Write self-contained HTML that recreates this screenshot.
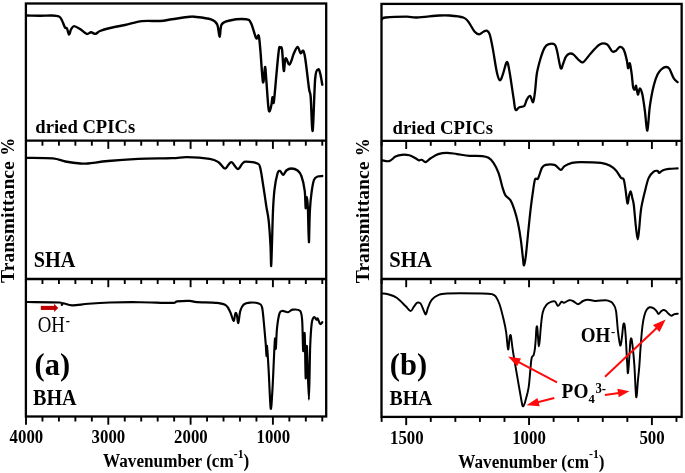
<!DOCTYPE html>
<html><head><meta charset="utf-8"><title>FTIR spectra</title>
<style>
html,body{margin:0;padding:0;background:#fff;}
body{width:685px;height:473px;overflow:hidden;position:relative;font-family:"Liberation Serif",serif;}
svg text{font-family:"Liberation Serif",serif;}
</style></head><body>
<svg width="685" height="473" viewBox="0 0 685 473" style="display:block;position:absolute;left:0;top:0;filter:blur(0.4px)">
<rect x="0" y="0" width="685" height="473" fill="#fff"/>
<g fill="none" stroke="#000" stroke-width="2.3">
<rect x="25.90" y="3.50" width="300.30" height="413.00"/>
<path d="M25.90 140.70H326.20"/>
<path d="M25.90 279.00H326.20"/>
</g>
<g fill="none" stroke="#000" stroke-width="1.9">
<path d="M322.28 140.70v5.00"/>
<path d="M305.82 140.70v5.00"/>
<path d="M289.36 140.70v5.00"/>
<path d="M256.44 140.70v5.00"/>
<path d="M239.98 140.70v5.00"/>
<path d="M223.52 140.70v5.00"/>
<path d="M207.06 140.70v5.00"/>
<path d="M174.14 140.70v5.00"/>
<path d="M157.68 140.70v5.00"/>
<path d="M141.22 140.70v5.00"/>
<path d="M124.76 140.70v5.00"/>
<path d="M91.84 140.70v5.00"/>
<path d="M75.38 140.70v5.00"/>
<path d="M58.92 140.70v5.00"/>
<path d="M42.46 140.70v5.00"/>
<path d="M26.00 140.70v8.20"/>
<path d="M108.30 140.70v8.20"/>
<path d="M190.60 140.70v8.20"/>
<path d="M272.90 140.70v8.20"/>
<path d="M322.28 279.00v5.00"/>
<path d="M305.82 279.00v5.00"/>
<path d="M289.36 279.00v5.00"/>
<path d="M256.44 279.00v5.00"/>
<path d="M239.98 279.00v5.00"/>
<path d="M223.52 279.00v5.00"/>
<path d="M207.06 279.00v5.00"/>
<path d="M174.14 279.00v5.00"/>
<path d="M157.68 279.00v5.00"/>
<path d="M141.22 279.00v5.00"/>
<path d="M124.76 279.00v5.00"/>
<path d="M91.84 279.00v5.00"/>
<path d="M75.38 279.00v5.00"/>
<path d="M58.92 279.00v5.00"/>
<path d="M42.46 279.00v5.00"/>
<path d="M26.00 279.00v8.20"/>
<path d="M108.30 279.00v8.20"/>
<path d="M190.60 279.00v8.20"/>
<path d="M272.90 279.00v8.20"/>
<path d="M322.28 416.50v5.00"/>
<path d="M305.82 416.50v5.00"/>
<path d="M289.36 416.50v5.00"/>
<path d="M256.44 416.50v5.00"/>
<path d="M239.98 416.50v5.00"/>
<path d="M223.52 416.50v5.00"/>
<path d="M207.06 416.50v5.00"/>
<path d="M174.14 416.50v5.00"/>
<path d="M157.68 416.50v5.00"/>
<path d="M141.22 416.50v5.00"/>
<path d="M124.76 416.50v5.00"/>
<path d="M91.84 416.50v5.00"/>
<path d="M75.38 416.50v5.00"/>
<path d="M58.92 416.50v5.00"/>
<path d="M42.46 416.50v5.00"/>
<path d="M26.00 416.50v8.20"/>
<path d="M108.30 416.50v8.20"/>
<path d="M190.60 416.50v8.20"/>
<path d="M272.90 416.50v8.20"/>
</g>
<g fill="none" stroke="#000" stroke-width="2.3">
<rect x="381.50" y="3.90" width="300.15" height="413.00"/>
<path d="M381.50 140.80H681.65"/>
<path d="M381.50 279.00H681.65"/>
</g>
<g fill="none" stroke="#000" stroke-width="1.9">
<path d="M676.47 140.80v5.00"/>
<path d="M627.33 140.80v5.00"/>
<path d="M602.76 140.80v5.00"/>
<path d="M578.19 140.80v5.00"/>
<path d="M553.62 140.80v5.00"/>
<path d="M504.48 140.80v5.00"/>
<path d="M479.91 140.80v5.00"/>
<path d="M455.34 140.80v5.00"/>
<path d="M430.77 140.80v5.00"/>
<path d="M381.63 140.80v5.00"/>
<path d="M406.20 140.80v8.20"/>
<path d="M529.05 140.80v8.20"/>
<path d="M651.90 140.80v8.20"/>
<path d="M676.47 279.00v5.00"/>
<path d="M627.33 279.00v5.00"/>
<path d="M602.76 279.00v5.00"/>
<path d="M578.19 279.00v5.00"/>
<path d="M553.62 279.00v5.00"/>
<path d="M504.48 279.00v5.00"/>
<path d="M479.91 279.00v5.00"/>
<path d="M455.34 279.00v5.00"/>
<path d="M430.77 279.00v5.00"/>
<path d="M381.63 279.00v5.00"/>
<path d="M406.20 279.00v8.20"/>
<path d="M529.05 279.00v8.20"/>
<path d="M651.90 279.00v8.20"/>
<path d="M676.47 416.90v5.00"/>
<path d="M627.33 416.90v5.00"/>
<path d="M602.76 416.90v5.00"/>
<path d="M578.19 416.90v5.00"/>
<path d="M553.62 416.90v5.00"/>
<path d="M504.48 416.90v5.00"/>
<path d="M479.91 416.90v5.00"/>
<path d="M455.34 416.90v5.00"/>
<path d="M430.77 416.90v5.00"/>
<path d="M381.63 416.90v5.00"/>
<path d="M406.20 416.90v8.20"/>
<path d="M529.05 416.90v8.20"/>
<path d="M651.90 416.90v8.20"/>
</g>
<g fill="none" stroke="#000" stroke-linejoin="round" stroke-linecap="round">
<path stroke-width="2.4" d="M26.5 15.5C28.8 15.5 35.8 15.7 40.0 15.7C44.2 15.7 48.8 15.4 52.0 15.5C55.2 15.6 57.3 15.7 59.0 16.5C60.7 17.3 61.0 18.7 62.0 20.5C63.0 22.3 64.2 26.2 65.0 27.5C65.8 28.8 66.3 27.3 67.0 28.5C67.7 29.7 68.3 34.3 69.0 34.5C69.7 34.7 70.2 30.9 71.0 29.5C71.8 28.1 72.5 26.2 74.0 26.1C75.5 26.0 77.9 27.7 80.0 29.0C82.1 30.3 84.9 33.4 86.7 33.9C88.5 34.4 89.5 32.3 91.0 32.3C92.5 32.3 94.0 34.1 95.5 33.9C97.0 33.7 97.6 32.0 100.0 31.0C102.4 30.0 105.8 29.0 110.0 28.0C114.2 27.0 119.7 26.1 125.0 25.0C130.3 23.9 136.2 21.8 142.0 21.1C147.8 20.4 155.0 21.3 160.0 21.0C165.0 20.7 167.1 20.0 172.0 19.3C176.9 18.6 185.8 17.2 189.6 16.8C193.4 16.4 191.0 16.4 194.6 16.8C198.2 17.2 207.2 18.0 211.0 19.3C214.8 20.6 215.8 21.5 217.2 24.4C218.6 27.3 218.9 36.9 219.7 36.9C220.4 36.9 220.0 27.1 221.7 24.4C223.4 21.7 225.8 21.4 229.8 20.5C233.9 19.6 242.5 18.9 246.0 19.3C249.5 19.7 249.3 20.0 251.0 23.1C252.7 26.2 254.9 36.1 256.2 38.2C257.5 40.3 258.0 33.7 258.7 35.7C259.4 37.8 259.7 42.8 260.4 50.5C261.1 58.2 262.2 79.4 263.0 82.2C263.8 85.0 264.5 67.7 265.0 67.1C265.5 66.5 265.6 71.4 266.2 78.5C266.8 85.6 267.9 105.2 268.7 109.8C269.5 114.4 270.6 108.1 271.2 106.0C271.8 103.9 272.1 97.8 272.5 97.2C272.9 96.6 273.2 105.8 273.8 102.3C274.4 98.8 275.5 84.7 276.3 75.9C277.1 67.1 278.2 54.4 278.9 49.7C279.6 45.0 279.9 48.0 280.4 47.9C280.9 47.8 281.4 45.5 282.0 49.3C282.6 53.1 283.2 69.4 283.8 70.9C284.4 72.4 284.6 59.4 285.6 58.3C286.6 57.2 288.2 65.3 289.6 64.5C291.0 63.7 292.6 56.2 293.9 53.3C295.2 50.4 296.5 47.0 297.6 47.0C298.7 47.0 299.7 52.7 300.6 53.3C301.5 53.9 302.4 49.9 303.2 50.7C304.0 51.5 304.2 52.0 305.2 58.3C306.2 64.6 308.1 82.0 309.0 88.5C309.9 95.0 310.1 90.2 310.7 97.2C311.3 104.2 311.9 133.8 312.7 130.7C313.4 127.6 314.3 88.6 315.2 78.4C316.1 68.2 317.4 70.3 318.2 69.5C319.0 68.7 319.5 70.9 320.2 73.4C320.9 75.9 321.9 82.8 322.3 84.7"/>
<path stroke-width="2.3" d="M26.4 157.9C30.8 158.0 46.3 157.8 52.8 158.4C59.3 159.0 60.7 160.7 65.3 161.5C69.9 162.3 76.6 163.2 80.4 163.5C84.2 163.8 83.4 163.9 88.0 163.5C92.6 163.1 99.6 161.8 108.0 161.0C116.4 160.2 127.5 159.4 138.2 158.9C148.9 158.4 163.9 158.5 172.0 158.2C180.1 157.9 180.7 157.1 187.0 157.2C193.3 157.3 204.4 158.1 209.7 158.9C214.9 159.7 216.0 160.6 218.5 162.2C221.0 163.8 223.1 168.1 224.8 168.5C226.5 168.9 227.3 165.8 228.5 164.7C229.7 163.6 230.2 161.5 231.8 162.2C233.4 162.9 236.0 168.8 237.8 169.0C239.6 169.2 241.0 164.7 242.4 163.5C243.8 162.3 243.6 161.7 246.1 161.7C248.6 161.7 255.0 162.4 257.4 163.5C259.8 164.6 259.3 164.3 260.4 168.5C261.4 172.7 262.7 182.4 263.7 188.6C264.7 194.8 265.4 200.2 266.2 205.6C267.0 211.0 268.0 214.1 268.7 220.8C269.4 227.5 270.1 238.4 270.5 245.9C270.9 253.4 270.9 266.4 271.2 266.0C271.4 265.6 271.7 252.6 272.0 243.4C272.3 234.2 272.6 219.6 273.0 210.6C273.4 201.6 273.8 195.8 274.5 189.6C275.2 183.4 276.6 176.6 277.5 173.5C278.4 170.4 279.0 170.8 280.0 171.0C281.0 171.2 282.2 174.9 283.3 174.8C284.4 174.7 285.0 171.6 286.3 170.5C287.6 169.4 289.4 168.5 291.3 168.5C293.2 168.5 295.9 169.2 297.6 170.5C299.3 171.8 300.2 172.7 301.4 176.0C302.6 179.3 304.0 185.2 304.7 190.6C305.4 196.0 305.3 207.1 305.7 208.2C306.1 209.2 306.5 196.9 306.9 196.9C307.3 196.9 307.6 200.6 307.9 208.2C308.2 215.8 308.6 241.8 308.9 242.2C309.2 242.6 309.4 218.9 309.9 210.6C310.3 202.2 310.9 197.2 311.6 192.1C312.3 187.0 313.0 182.4 314.0 179.8C315.0 177.2 316.3 177.1 317.7 176.5C319.1 175.9 321.5 176.1 322.3 176.0"/>
<path stroke-width="2.15" d="M27.0 302.0C32.4 302.1 53.6 302.0 59.4 302.5C65.2 303.0 61.1 304.8 61.8 304.9C62.5 305.0 61.6 303.2 63.4 303.3C65.2 303.4 68.1 305.3 72.3 305.4C76.5 305.5 82.0 304.3 88.3 303.8C94.6 303.3 101.4 302.8 110.0 302.5C118.6 302.2 129.7 302.1 140.0 302.2C150.3 302.3 165.8 303.0 172.0 302.9C178.2 302.8 174.1 301.7 177.0 301.4C179.9 301.1 186.3 300.8 189.6 300.9C192.9 301.0 192.4 301.8 197.0 302.1C201.6 302.4 212.4 302.3 217.2 302.9C222.0 303.4 223.8 303.8 226.0 305.4C228.2 306.9 229.0 309.6 230.3 312.2C231.6 314.8 232.8 320.8 233.6 321.0C234.4 321.2 234.8 314.4 235.3 313.4C235.8 312.3 236.3 313.1 236.8 314.7C237.3 316.3 237.7 323.6 238.3 323.0C238.9 322.4 239.4 314.0 240.3 310.9C241.2 307.8 242.0 306.0 243.6 304.6C245.2 303.2 247.4 302.8 249.9 302.6C252.4 302.4 256.7 302.6 258.7 303.4C260.7 304.1 261.2 304.2 262.0 307.1C262.8 310.0 263.1 314.9 263.7 321.0C264.3 327.1 265.2 337.8 265.7 343.6C266.2 349.4 266.3 355.7 266.5 356.1C266.7 356.5 266.6 343.6 267.0 346.1C267.4 348.6 268.1 360.8 268.7 371.2C269.3 381.6 270.1 405.6 270.7 408.5C271.3 411.4 272.0 396.6 272.5 388.7C273.0 380.8 273.4 369.6 273.8 361.2C274.2 352.8 274.7 340.6 275.0 338.5C275.3 336.4 275.5 350.4 275.8 348.7C276.1 347.0 276.4 334.4 277.0 328.5C277.6 322.6 278.6 316.3 279.5 313.4C280.4 310.5 281.1 311.1 282.5 310.9C283.9 310.7 286.3 312.4 288.0 312.2C289.7 312.0 290.6 309.8 292.6 309.6C294.6 309.4 298.5 309.0 300.1 310.9C301.7 312.8 301.7 314.3 302.2 321.0C302.7 327.7 302.8 349.0 303.2 351.1C303.6 353.2 304.3 329.0 304.7 333.5C305.1 338.0 305.3 376.2 305.7 378.3C306.1 380.4 306.4 342.5 306.9 346.1C307.4 349.7 308.3 399.7 308.9 399.7C309.4 399.7 309.7 358.8 310.2 346.1C310.7 333.4 311.1 328.3 311.7 323.5C312.3 318.7 313.2 317.8 314.0 317.2C314.8 316.6 315.9 319.5 316.5 319.7C317.1 319.9 317.1 317.7 317.7 318.4C318.3 319.1 319.4 323.4 320.2 324.0C321.0 324.6 321.9 322.5 322.3 322.2"/>
<path stroke-width="2.3" d="M382.2 19.2C382.8 18.9 381.4 17.9 385.5 17.5C389.6 17.1 401.6 16.7 406.8 16.7C412.0 16.7 411.4 17.7 416.9 17.5C422.3 17.3 434.1 15.8 439.5 15.5C444.9 15.2 445.5 15.2 449.5 15.5C453.5 15.8 460.2 16.4 463.3 17.5C466.4 18.6 466.5 19.4 468.4 21.8C470.3 24.2 472.9 29.7 474.7 31.8C476.5 33.9 477.8 34.3 479.2 34.3C480.6 34.3 482.1 32.4 483.4 31.8C484.6 31.2 485.6 30.2 486.7 30.6C487.8 31.0 488.7 31.4 489.7 34.3C490.7 37.2 491.5 41.8 492.7 48.1C493.9 54.4 495.6 66.6 496.8 72.0C498.0 77.4 498.8 79.9 499.8 80.3C500.8 80.7 501.8 77.4 502.8 74.5C503.9 71.6 505.3 65.1 506.1 63.2C506.9 61.3 507.2 61.5 507.8 63.2C508.4 64.9 508.8 67.4 509.8 73.3C510.8 79.2 512.6 92.3 513.6 98.4C514.6 104.5 514.5 108.2 515.5 109.7C516.5 111.2 517.8 107.8 519.3 107.2C520.8 106.6 523.0 107.2 524.3 105.9C525.5 104.6 525.8 101.3 526.8 99.6C527.8 97.9 529.0 95.5 530.1 95.9C531.2 96.3 532.3 103.0 533.1 102.2C533.9 101.4 534.5 95.7 535.1 90.9C535.7 86.1 536.0 78.8 536.9 73.3C537.8 67.9 539.4 62.4 540.6 58.2C541.9 54.0 543.1 50.4 544.4 48.1C545.7 45.8 546.5 45.0 548.2 44.4C549.9 43.8 553.0 43.4 554.5 44.4C556.0 45.4 556.0 46.7 557.0 50.7C558.0 54.7 559.7 66.1 560.7 68.2C561.8 70.3 562.4 65.1 563.3 63.2C564.1 61.3 564.8 58.5 565.8 56.9C566.8 55.3 568.2 54.1 569.5 53.7C570.8 53.3 571.6 53.2 573.3 54.4C575.0 55.6 577.9 59.4 579.6 60.7C581.3 62.0 581.5 63.2 583.4 62.0C585.3 60.8 588.2 56.1 590.9 53.2C593.6 50.3 597.0 45.9 599.7 44.4C602.4 42.9 605.1 43.2 607.2 44.4C609.3 45.6 610.7 50.4 612.2 51.4C613.7 52.4 614.7 51.4 616.0 50.7C617.3 49.9 618.5 47.1 619.8 46.9C621.1 46.7 622.5 47.3 623.6 49.4C624.7 51.5 625.9 56.3 626.6 59.4C627.4 62.5 627.6 67.6 628.1 68.2C628.6 68.8 629.2 62.3 629.8 63.2C630.4 64.0 631.0 69.3 631.6 73.3C632.2 77.3 632.6 84.4 633.1 87.1C633.6 89.8 634.4 89.8 634.9 89.6C635.4 89.4 635.6 85.0 636.1 85.8C636.6 86.6 637.3 94.2 637.9 94.6C638.5 95.0 639.1 88.3 639.9 88.3C640.6 88.3 641.6 90.8 642.4 94.6C643.2 98.4 644.1 105.0 644.9 111.0C645.7 117.0 646.6 131.4 647.4 130.6C648.2 129.8 648.8 113.4 649.9 105.9C651.0 98.4 652.4 91.0 653.7 85.8C655.0 80.6 656.2 77.2 657.5 74.5C658.8 71.8 659.8 70.8 661.2 69.5C662.6 68.2 664.4 67.1 665.8 67.0C667.1 66.9 668.0 66.8 669.3 68.7C670.6 70.6 672.4 76.1 673.8 78.3C675.2 80.5 677.0 81.5 677.6 82.1"/>
<path stroke-width="2.2" d="M382.2 160.4C383.4 160.5 387.0 161.7 389.2 161.1C391.4 160.5 393.4 157.6 395.5 156.6C397.6 155.6 399.5 155.0 401.8 154.8C404.1 154.6 407.0 154.7 409.3 155.3C411.6 155.9 414.0 157.5 415.6 158.3C417.2 159.2 417.8 160.2 418.9 160.4C419.9 160.7 420.8 159.5 421.9 159.8C423.0 160.1 424.2 162.3 425.7 162.1C427.2 161.8 428.6 159.6 430.7 158.3C432.8 157.0 435.5 155.0 438.2 154.1C440.9 153.2 443.9 152.8 447.0 152.8C450.1 152.8 453.3 153.6 457.1 154.1C460.9 154.6 465.4 155.5 469.6 155.8C473.8 156.1 479.1 155.8 482.2 156.1C485.3 156.4 486.6 156.7 488.5 157.8C490.4 158.9 491.8 160.4 493.5 162.9C495.2 165.4 497.0 168.9 498.5 172.9C500.0 176.9 501.2 183.0 502.3 186.7C503.4 190.4 504.0 192.9 505.3 195.1C506.6 197.3 508.9 197.8 510.4 200.1C511.9 202.4 512.9 205.1 514.1 208.9C515.4 212.7 516.8 217.5 517.9 222.7C519.0 227.9 520.1 234.4 520.9 240.3C521.7 246.2 522.4 253.7 522.9 257.9C523.4 262.1 523.5 265.8 524.0 265.4C524.5 265.0 525.2 261.3 525.9 255.4C526.6 249.5 527.6 238.2 528.4 230.2C529.2 222.2 530.0 214.2 530.8 207.6C531.6 201.0 532.4 195.2 533.1 190.5C533.8 185.8 534.3 181.2 535.1 179.2C535.9 177.2 537.0 180.3 538.1 178.4C539.2 176.5 540.6 170.2 541.9 167.9C543.2 165.7 543.6 165.4 545.7 164.9C547.8 164.4 552.0 164.1 554.5 164.9C557.0 165.7 559.0 169.7 560.7 169.9C562.4 170.1 562.6 167.3 564.5 166.1C566.4 164.9 569.3 163.6 572.0 162.9C574.7 162.2 576.0 162.1 580.8 162.1C585.6 162.1 596.1 162.3 600.9 162.9C605.7 163.5 607.2 164.2 609.7 165.4C612.2 166.7 614.1 168.3 616.0 170.4C617.9 172.5 619.7 176.4 621.0 177.9C622.3 179.4 622.8 177.2 623.6 179.2C624.4 181.2 625.0 185.9 625.6 190.0C626.2 194.1 626.9 202.6 627.5 203.5C628.1 204.4 628.6 197.5 629.1 195.5C629.6 193.5 630.3 191.1 630.8 191.5C631.3 191.9 631.8 195.8 632.3 198.0C632.8 200.2 633.2 200.1 633.8 205.0C634.4 209.9 635.3 221.9 636.0 227.7C636.7 233.4 637.2 239.5 637.8 239.5C638.3 239.5 638.8 232.8 639.3 227.7C639.8 222.6 640.2 215.0 641.1 209.0C642.0 203.0 643.6 196.7 644.9 191.5C646.2 186.3 647.2 181.2 648.7 177.9C650.2 174.6 652.2 172.9 653.7 171.7C655.2 170.5 656.6 170.7 657.5 170.9C658.4 171.1 658.4 173.0 659.2 172.9C660.0 172.8 660.9 171.1 662.5 170.4C664.1 169.7 666.3 169.2 668.8 168.9C671.3 168.6 676.1 168.5 677.6 168.4"/>
<path stroke-width="1.95" d="M382.2 293.5C383.2 293.6 385.6 293.5 388.0 294.2C390.4 294.9 393.8 295.7 396.7 297.7C399.6 299.7 403.2 303.8 405.5 306.0C407.8 308.2 409.2 310.9 410.6 311.0C412.0 311.1 412.7 308.2 413.8 306.8C414.9 305.4 416.2 303.3 417.3 302.7C418.4 302.2 419.5 302.1 420.6 303.5C421.7 304.9 423.0 309.2 423.9 311.0C424.8 312.8 425.2 314.9 425.9 314.3C426.6 313.7 427.1 309.7 428.1 307.3C429.1 304.9 430.2 301.7 431.9 299.7C433.6 297.7 435.7 296.2 438.2 295.2C440.7 294.2 439.7 293.8 447.0 293.5C454.3 293.2 474.6 293.4 482.1 293.5C489.6 293.6 489.9 293.7 492.2 294.2C494.5 294.7 494.6 295.0 495.9 296.7C497.1 298.5 498.4 300.9 499.7 304.7C501.0 308.6 502.6 315.2 503.7 319.8C504.8 324.4 505.5 327.7 506.2 332.6C506.9 337.5 507.5 348.7 508.1 349.4C508.7 350.2 509.2 339.3 509.7 337.1C510.2 334.9 510.4 334.0 510.9 336.1C511.4 338.2 511.8 343.7 512.7 349.6C513.6 355.5 514.9 363.0 516.4 371.6C517.9 380.2 520.4 395.2 521.5 401.0C522.6 406.8 522.6 406.3 523.3 406.2C524.0 406.1 524.6 403.7 525.5 400.6C526.4 397.5 527.8 392.4 528.6 387.6C529.4 382.8 529.7 376.6 530.2 371.7C530.7 366.8 531.0 361.0 531.6 358.2C532.2 355.4 533.1 356.5 533.6 355.1C534.1 353.7 534.4 352.1 534.8 349.6C535.1 347.1 535.4 343.5 535.7 340.0C536.0 336.5 536.1 330.6 536.4 328.6C536.7 326.6 536.9 324.9 537.3 327.8C537.7 330.7 538.4 346.3 539.0 346.2C539.6 346.1 540.2 333.0 540.8 327.3C541.4 321.6 541.8 316.1 542.8 312.3C543.8 308.5 545.1 306.5 546.6 304.7C548.1 302.9 550.1 302.2 551.6 301.7C553.1 301.2 554.4 301.0 555.4 301.7C556.4 302.4 556.9 306.0 557.9 306.0C558.9 306.0 560.6 302.3 561.6 301.7C562.6 301.2 562.8 303.0 564.1 302.7C565.4 302.5 567.7 300.5 569.2 300.2C570.7 299.9 571.4 300.3 572.9 301.0C574.4 301.7 576.3 304.2 578.0 304.2C579.7 304.2 581.3 301.8 583.0 301.0C584.7 300.2 585.9 299.7 588.0 299.7C590.1 299.7 592.6 300.9 595.5 301.0C598.4 301.1 603.1 300.1 605.6 300.2C608.1 300.3 609.3 301.0 610.6 301.7C611.9 302.4 612.6 302.9 613.5 304.4C614.4 305.9 615.2 306.2 616.0 310.8C616.8 315.4 617.3 325.9 618.0 331.7C618.7 337.5 619.6 344.4 620.3 345.4C620.9 346.4 621.4 341.0 621.9 337.6C622.4 334.2 622.8 327.5 623.2 325.3C623.6 323.1 624.1 322.9 624.5 324.5C624.9 326.1 625.1 328.4 625.6 334.9C626.1 341.5 626.8 357.5 627.2 363.8C627.6 370.1 627.6 374.0 628.0 373.0C628.4 372.0 628.9 362.9 629.3 357.6C629.7 352.3 630.0 344.5 630.4 341.4C630.8 338.3 631.1 337.8 631.5 338.9C631.9 340.0 632.3 343.4 632.8 347.8C633.3 352.2 633.8 357.4 634.4 365.6C635.0 373.8 635.6 394.8 636.2 397.1C636.8 399.4 637.5 384.5 638.0 379.6C638.5 374.7 638.7 373.4 639.2 367.6C639.7 361.8 640.2 351.6 640.8 344.6C641.3 337.6 641.9 330.4 642.5 325.6C643.1 320.8 643.7 318.2 644.4 315.6C645.1 313.0 645.6 311.4 646.5 310.0C647.4 308.6 648.5 307.6 649.7 307.3C650.9 307.0 652.5 307.7 653.7 308.4C654.9 309.1 656.1 310.7 656.9 311.6C657.7 312.6 657.8 314.1 658.5 314.1C659.2 314.1 660.1 312.3 660.9 311.6C661.7 310.9 662.5 310.1 663.3 310.0C664.1 309.9 664.8 310.1 665.7 310.8C666.6 311.5 668.0 313.3 668.9 314.1C669.8 314.9 670.4 315.7 671.4 315.7C672.4 315.7 673.5 314.4 674.6 314.1C675.7 313.8 677.3 313.8 677.8 313.7"/>
</g>
<path d="M40.8 307.9L55.1 307.9" stroke="#c00000" stroke-width="4.1" fill="none"/><path d="M58.3 307.9L54.1 312.0L54.1 303.8Z" fill="#c00000"/>
<path d="M557.0 382.3L518.2 361.9" stroke="#ff0a0a" stroke-width="2" fill="none"/><path d="M508.0 356.6L521.0 358.6L517.1 366.2Z" fill="#ff0a0a"/>
<path d="M554.3 398.0L537.6 402.3" stroke="#ff0a0a" stroke-width="2" fill="none"/><path d="M526.5 405.2L537.5 398.0L539.7 406.2Z" fill="#ff0a0a"/>
<path d="M604.9 395.0L619.0 392.9" stroke="#ff0a0a" stroke-width="2" fill="none"/><path d="M629.4 391.3L618.7 397.2L617.4 388.8Z" fill="#ff0a0a"/>
<path d="M605.0 376.8L657.0 327.8" stroke="#ff0a0a" stroke-width="2" fill="none"/><path d="M665.7 319.6L659.5 332.0L653.0 325.1Z" fill="#ff0a0a"/>
<text x="35.3" y="133.4" font-family="'Liberation Serif', serif" font-size="19.5" font-weight="bold" text-anchor="start" textLength="99.9" lengthAdjust="spacingAndGlyphs"  fill="#000">dried CPICs</text>
<text x="33.8" y="266.9" font-family="'Liberation Serif', serif" font-size="22.5" font-weight="bold" text-anchor="start" textLength="41.7" lengthAdjust="spacingAndGlyphs"  fill="#000">SHA</text>
<text x="33.0" y="404.5" font-family="'Liberation Serif', serif" font-size="22.5" font-weight="bold" text-anchor="start" textLength="43.6" lengthAdjust="spacingAndGlyphs"  fill="#000">BHA</text>
<text x="34.6" y="375.3" font-family="'Liberation Serif', serif" font-size="31" font-weight="bold" text-anchor="start" textLength="35.5" lengthAdjust="spacingAndGlyphs"  fill="#000">(a)</text>
<text x="392.6" y="133.8" font-family="'Liberation Serif', serif" font-size="19.5" font-weight="bold" text-anchor="start" textLength="100.5" lengthAdjust="spacingAndGlyphs"  fill="#000">dried CPICs</text>
<text x="389.3" y="267.1" font-family="'Liberation Serif', serif" font-size="22.5" font-weight="bold" text-anchor="start" textLength="42.6" lengthAdjust="spacingAndGlyphs"  fill="#000">SHA</text>
<text x="389.5" y="404.8" font-family="'Liberation Serif', serif" font-size="22" font-weight="bold" text-anchor="start" textLength="42.8" lengthAdjust="spacingAndGlyphs"  fill="#000">BHA</text>
<text x="389.8" y="375.2" font-family="'Liberation Serif', serif" font-size="31" font-weight="bold" text-anchor="start" textLength="37.3" lengthAdjust="spacingAndGlyphs"  fill="#000">(b)</text>
<text x="26.4" y="443.1" font-family="'Liberation Serif', serif" font-size="19" font-weight="bold" text-anchor="middle" textLength="33.6" lengthAdjust="spacingAndGlyphs"  fill="#000">4000</text>
<text x="108.4" y="443.1" font-family="'Liberation Serif', serif" font-size="19" font-weight="bold" text-anchor="middle" textLength="33.6" lengthAdjust="spacingAndGlyphs"  fill="#000">3000</text>
<text x="190.9" y="443.1" font-family="'Liberation Serif', serif" font-size="19" font-weight="bold" text-anchor="middle" textLength="33.6" lengthAdjust="spacingAndGlyphs"  fill="#000">2000</text>
<text x="273.3" y="443.1" font-family="'Liberation Serif', serif" font-size="19" font-weight="bold" text-anchor="middle" textLength="33.6" lengthAdjust="spacingAndGlyphs"  fill="#000">1000</text>
<text x="406.8" y="443.5" font-family="'Liberation Serif', serif" font-size="19" font-weight="bold" text-anchor="middle" textLength="33.6" lengthAdjust="spacingAndGlyphs"  fill="#000">1500</text>
<text x="529.0" y="443.5" font-family="'Liberation Serif', serif" font-size="19" font-weight="bold" text-anchor="middle" textLength="33.6" lengthAdjust="spacingAndGlyphs"  fill="#000">1000</text>
<text x="652.1" y="443.5" font-family="'Liberation Serif', serif" font-size="19" font-weight="bold" text-anchor="middle" textLength="25.3" lengthAdjust="spacingAndGlyphs"  fill="#000">500</text>
<text x="37.7" y="331.8" font-family="'Liberation Serif', serif" font-size="22.5" font-weight="normal" text-anchor="start" textLength="27.2" lengthAdjust="spacingAndGlyphs"  fill="#000">OH</text>
<text x="65.8" y="325.0" font-family="'Liberation Serif', serif" font-size="15" font-weight="bold" text-anchor="start" textLength="4.2" lengthAdjust="spacingAndGlyphs"  fill="#000">-</text>
<text x="580.7" y="341.5" font-family="'Liberation Serif', serif" font-size="21" font-weight="bold" text-anchor="start" textLength="29.6" lengthAdjust="spacingAndGlyphs"  fill="#000">OH</text>
<text x="610.9" y="335.6" font-family="'Liberation Serif', serif" font-size="13.5" font-weight="bold" text-anchor="start" textLength="4.2" lengthAdjust="spacingAndGlyphs"  fill="#000">-</text>
<text x="561.6" y="398.2" font-family="'Liberation Serif', serif" font-size="20" font-weight="bold" text-anchor="start" textLength="26.8" lengthAdjust="spacingAndGlyphs"  fill="#000">PO</text>
<text x="588.4" y="403.3" font-family="'Liberation Serif', serif" font-size="13.5" font-weight="bold" text-anchor="start" textLength="6.3" lengthAdjust="spacingAndGlyphs"  fill="#000">4</text>
<text x="595.4" y="392.6" font-family="'Liberation Serif', serif" font-size="14.5" font-weight="bold" text-anchor="start" textLength="10.6" lengthAdjust="spacingAndGlyphs"  fill="#000">3-</text>
<text x="103.1" y="467.1" font-family="'Liberation Serif', serif" font-size="18.5" font-weight="bold" text-anchor="start" textLength="146.2" lengthAdjust="spacingAndGlyphs"  fill="#000">Wavenumber (cm<tspan font-size="12.7" dy="-9.4">-1</tspan><tspan dy="9.4">)</tspan></text>
<text x="458.3" y="467.5" font-family="'Liberation Serif', serif" font-size="18.5" font-weight="bold" text-anchor="start" textLength="146.2" lengthAdjust="spacingAndGlyphs"  fill="#000">Wavenumber (cm<tspan font-size="12.7" dy="-9.4">-1</tspan><tspan dy="9.4">)</tspan></text>
<text x="0.0" y="0.0" font-family="'Liberation Serif', serif" font-size="18.3" font-weight="bold" text-anchor="start" textLength="121.6" lengthAdjust="spacingAndGlyphs" transform="translate(13.8,282.9) rotate(-90)" fill="#000">Transmittance</text>
<text x="0.0" y="0.0" font-family="'Liberation Serif', serif" font-size="18.3" font-weight="bold" text-anchor="start" textLength="17.6" lengthAdjust="spacingAndGlyphs" transform="translate(13.8,155.6) rotate(-90)" fill="#000">%</text>
<text x="0.0" y="0.0" font-family="'Liberation Serif', serif" font-size="18.3" font-weight="bold" text-anchor="start" textLength="121.6" lengthAdjust="spacingAndGlyphs" transform="translate(369.1,283.2) rotate(-90)" fill="#000">Transmittance</text>
<text x="0.0" y="0.0" font-family="'Liberation Serif', serif" font-size="18.3" font-weight="bold" text-anchor="start" textLength="17.6" lengthAdjust="spacingAndGlyphs" transform="translate(369.1,155.9) rotate(-90)" fill="#000">%</text>
</svg>
</body></html>
